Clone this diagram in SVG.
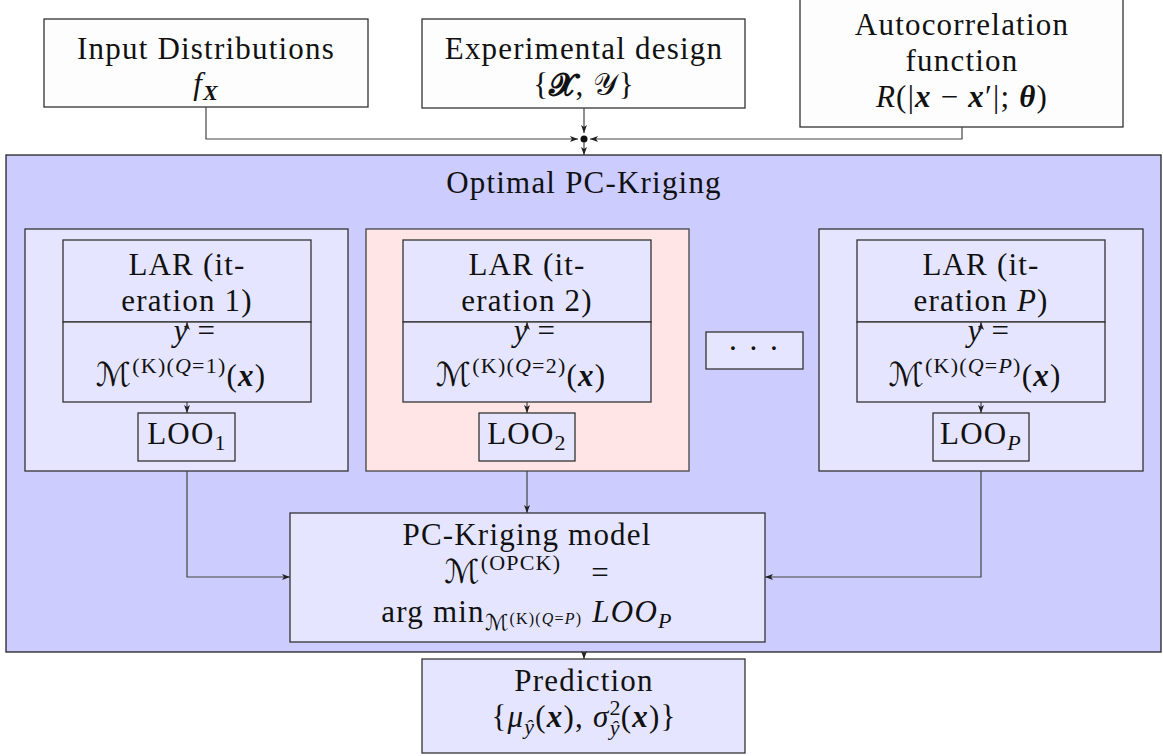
<svg xmlns="http://www.w3.org/2000/svg" width="1163" height="756" viewBox="0 0 1163 756">
<style>
.t{font-family:"Liberation Serif","DejaVu Serif",serif;font-size:31px;fill:#111;letter-spacing:1.2px}
.m{font-style:italic}
.b{font-weight:bold;font-style:italic}
.s{font-size:22px}
.ss{font-size:16px}
.cal{font-family:"DejaVu Serif","DejaVu Sans",serif;font-style:normal}
.wbox{fill:#fdfdfd;stroke:#333;stroke-width:1.3}
.outer{fill:#ccccff;stroke:#222;stroke-width:1.3}
.panel{fill:#e5e5ff;stroke:#333;stroke-width:1.3}
.pink{fill:#ffe5e5;stroke:#444;stroke-width:1.3}
.box{fill:#e5e5ff;stroke:#333;stroke-width:1.3}
.c{fill:none;stroke:#444;stroke-width:1.2}
</style>
<defs>
<marker id="ah" viewBox="0 0 8 6" refX="8" refY="3" markerWidth="8" markerHeight="6" markerUnits="userSpaceOnUse" orient="auto">
<path d="M0,0 L8,3 L0,6 L2,3 z" fill="#222"/>
</marker>
</defs>

<g id="input">
<rect class="wbox" x="44" y="19" width="324" height="88"/>
<text class="t" x="206" y="59" text-anchor="middle">Input Distributions</text>
<text class="t" x="206" y="94" text-anchor="middle"><tspan class="m">f</tspan><tspan class="s b" dy="6">X</tspan></text>
</g>

<g id="design">
<rect class="wbox" x="422" y="19" width="323" height="89"/>
<text class="t" x="584" y="59" text-anchor="middle">Experimental design</text>
<text class="t" x="584" y="95" text-anchor="middle">{<tspan class="cal" font-weight="bold">𝓧</tspan>, <tspan class="cal">𝒴</tspan>}</text>
</g>

<g id="autocorr">
<rect class="wbox" x="800" y="-2" width="323" height="129"/>
<text class="t" x="962" y="35" text-anchor="middle">Autocorrelation</text>
<text class="t" x="962" y="71" text-anchor="middle">function</text>
<text class="t" x="962" y="107" text-anchor="middle"><tspan class="m">R</tspan>(|<tspan class="b">x</tspan> − <tspan class="b">x</tspan>′|; <tspan class="b">θ</tspan>)</text>
</g>

<g id="opck">
<rect class="outer" x="6" y="155" width="1155" height="497"/>
<text class="t" x="584" y="193" text-anchor="middle">Optimal PC-Kriging</text>
</g>

<g id="iter1">
<rect class="panel" x="25" y="229" width="323" height="242"/>
<rect class="box" x="63" y="240" width="248" height="82"/>
<rect class="box" x="63" y="322" width="248" height="80"/>
<rect class="box" x="138" y="413" width="97" height="48"/>
<text class="t" x="187" y="275" text-anchor="middle">LAR (it-</text>
<text class="t" x="187" y="311" text-anchor="middle">eration 1)</text>
<text class="t" x="195" y="341" text-anchor="middle"><tspan class="m">y</tspan>   =</text>
<text class="t" x="181" y="386" text-anchor="middle"><tspan class="cal" font-size="33">ℳ</tspan><tspan class="s" dy="-13">(K)(<tspan class="m">Q</tspan>=1)</tspan><tspan dy="13">(</tspan><tspan class="b">x</tspan>)</text>
<text class="t" x="187" y="444" text-anchor="middle">LOO<tspan class="s" dy="6">1</tspan></text>
</g>

<g id="iter2">
<rect class="pink" x="366" y="229" width="323" height="242"/>
<rect class="box" x="403" y="240" width="248" height="82"/>
<rect class="box" x="403" y="322" width="248" height="80"/>
<rect class="box" x="479" y="413" width="96" height="48"/>
<text class="t" x="527" y="275" text-anchor="middle">LAR (it-</text>
<text class="t" x="527" y="311" text-anchor="middle">eration 2)</text>
<text class="t" x="535" y="341" text-anchor="middle"><tspan class="m">y</tspan>   =</text>
<text class="t" x="521" y="386" text-anchor="middle"><tspan class="cal" font-size="33">ℳ</tspan><tspan class="s" dy="-13">(K)(<tspan class="m">Q</tspan>=2)</tspan><tspan dy="13">(</tspan><tspan class="b">x</tspan>)</text>
<text class="t" x="527" y="444" text-anchor="middle">LOO<tspan class="s" dy="6">2</tspan></text>
</g>

<g id="dots">
<rect class="box" x="706" y="332" width="97" height="37"/>
<text class="t" x="754" y="359" text-anchor="middle">· · ·</text>
</g>

<g id="iterP">
<rect class="panel" x="819" y="229" width="324" height="242"/>
<rect class="box" x="857" y="240" width="248" height="82"/>
<rect class="box" x="857" y="322" width="248" height="80"/>
<rect class="box" x="933" y="413" width="96" height="48"/>
<text class="t" x="981" y="275" text-anchor="middle">LAR (it-</text>
<text class="t" x="981" y="311" text-anchor="middle">eration <tspan class="m">P</tspan>)</text>
<text class="t" x="989" y="341" text-anchor="middle"><tspan class="m">y</tspan>   =</text>
<text class="t" x="975" y="386" text-anchor="middle"><tspan class="cal" font-size="33">ℳ</tspan><tspan class="s" dy="-13">(K)(<tspan class="m">Q</tspan>=<tspan class="m">P</tspan>)</tspan><tspan dy="13">(</tspan><tspan class="b">x</tspan>)</text>
<text class="t" x="981" y="444" text-anchor="middle">LOO<tspan class="s m" dy="6">P</tspan></text>
</g>

<g id="pck">
<rect class="box" x="290" y="513" width="475" height="129"/>
<text class="t" x="527" y="545" text-anchor="middle">PC-Kriging model</text>
<text class="t" x="527" y="583" text-anchor="middle"><tspan class="cal" font-size="33">ℳ</tspan><tspan class="s" dy="-13">(OPCK)</tspan><tspan dy="13" dx="30">=</tspan></text>
<text class="t" x="527" y="622" text-anchor="middle">arg min<tspan class="s cal" dy="8">ℳ</tspan><tspan class="ss" dy="-6">(K)(<tspan class="m">Q</tspan>=<tspan class="m">P</tspan>)</tspan><tspan class="m" dy="-2" dx="10">LOO</tspan><tspan class="s m" dy="6">P</tspan></text>
</g>

<g id="prediction">
<rect class="box" x="422" y="659" width="323" height="94"/>
<text class="t" x="584" y="691" text-anchor="middle">Prediction</text>
<text class="t" x="584" y="727" text-anchor="middle">{<tspan class="m">μ</tspan><tspan class="s m" dy="7">ŷ</tspan><tspan dy="-7">(</tspan><tspan class="b">x</tspan>), <tspan class="m">σ</tspan><tspan class="s" dy="-12">2</tspan><tspan class="s m" dy="20" dx="-12">ŷ</tspan><tspan dy="-8">(</tspan><tspan class="b">x</tspan>)}</text>
</g>

<g id="connectors">
<path class="c" d="M206,107 V139 H578" marker-end="url(#ah)"/>
<path class="c" d="M584,108 V133" marker-end="url(#ah)"/>
<path class="c" d="M962,127 V139 H590" marker-end="url(#ah)"/>
<circle cx="584" cy="139" r="3.5" fill="#111"/>
<path class="c" d="M584,142 V155" marker-end="url(#ah)"/>
<path class="c" d="M187,329 V322" marker-end="url(#ah)"/>
<path class="c" d="M187,402 V413" marker-end="url(#ah)"/>
<path class="c" d="M527,329 V322" marker-end="url(#ah)"/>
<path class="c" d="M527,402 V413" marker-end="url(#ah)"/>
<path class="c" d="M981,329 V322" marker-end="url(#ah)"/>
<path class="c" d="M981,402 V413" marker-end="url(#ah)"/>
<path class="c" d="M187,471 V577 H290" marker-end="url(#ah)"/>
<path class="c" d="M527,471 V513" marker-end="url(#ah)"/>
<path class="c" d="M981,471 V577 H765" marker-end="url(#ah)"/>
<path class="c" d="M584,652 V659" marker-end="url(#ah)"/>
</g>
</svg>
